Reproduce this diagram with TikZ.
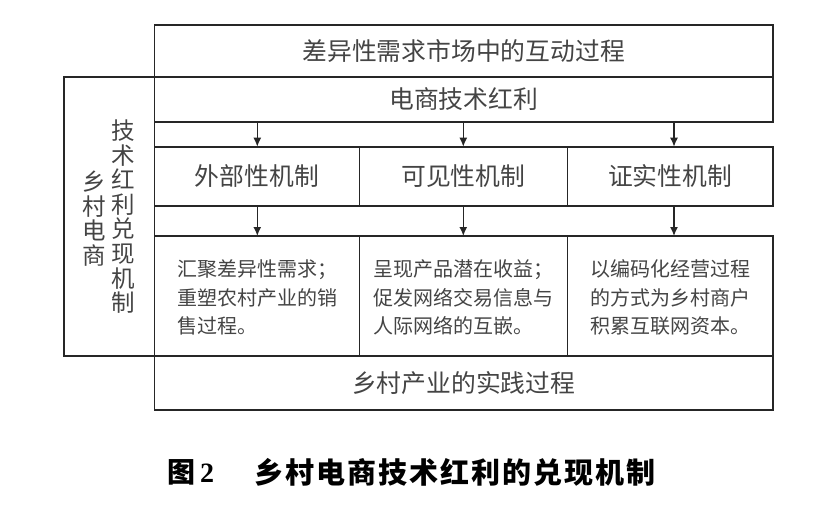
\documentclass[tikz,border=0pt]{standalone}
\usepackage{fontspec}
\setmainfont{Liberation Serif}
\newfontfamily\cjk{Noto Sans CJK SC}
\usetikzlibrary{arrows.meta}
\definecolor{linec}{HTML}{262626}
\definecolor{textc}{HTML}{444444}
\tikzset{
  box/.style={draw=linec, line width=1.6pt, rectangle, inner sep=0pt, outer sep=0pt, text=textc},
  biglabel/.style={font=\cjk\fontsize{24.8}{28}\selectfont},
  desc/.style={align=left, text=textc, font=\cjk\fontsize{20}{28.3}\selectfont},
  vtext/.style={align=center, text=textc, font=\cjk\fontsize{23.5}{24.6}\selectfont},
  arr/.style={draw=linec, line width=1.4pt, -{Latex[length=9pt,width=8pt]}}
}
\begin{document}
\begin{tikzpicture}[x=1pt,y=-1pt]
\useasboundingbox (0,0) rectangle (830,507);
% left frame
\node[box, minimum width=90.5pt, minimum height=279pt] (frame) at (109.25,216.5) {};
% top boxes
\node[box, biglabel, minimum width=618.2pt, minimum height=52pt] (top) at (463.6,51) {差异性需求市场中的互动过程};
\node[box, biglabel, minimum width=618.2pt, minimum height=44.7pt] (tech) at (463.6,99.35) {电商技术红利};
% mechanism boxes
\node[box, biglabel, minimum width=204.8pt, minimum height=59.3pt] (m1) at (256.9,176.35) {外部性机制};
\node[box, biglabel, minimum width=208pt, minimum height=59.3pt] (m2) at (463.3,176.35) {可见性机制};
\node[box, biglabel, minimum width=205.4pt, minimum height=59.3pt] (m3) at (670,176.35) {证实性机制};
% description boxes
\node[box, minimum width=204.8pt, minimum height=120pt] (d1) at (256.9,296) {};
\node[box, minimum width=208pt, minimum height=120pt] (d2) at (463.3,296) {};
\node[box, minimum width=205.4pt, minimum height=120pt] (d3) at (670,296) {};
\node[desc] (t1) at ([xshift=1pt,yshift=-1.5pt]d1.center) {汇聚差异性需求；\\重塑农村产业的销\\售过程。};
\node[desc] (t2) at ([xshift=0pt,yshift=-1.5pt]d2.center) {呈现产品潜在收益；\\促发网络交易信息与\\人际网络的互嵌。};
\node[desc] (t3) at ([xshift=0pt,yshift=-1.5pt]d3.center) {以编码化经营过程\\的方式为乡村商户\\积累互联网资本。};
% bottom box
\node[box, biglabel, minimum width=618.2pt, minimum height=54pt] (bottom) at (463.6,383) {乡村产业的实践过程};
% vertical texts
\node[vtext] (v1) at (123.5,216.6) {技\\术\\红\\利\\兑\\现\\机\\制};
\node[vtext] (v2) at (94,218.5) {乡\\村\\电\\商};
% arrows
\coordinate (c1) at (257.3,0);
\coordinate (c2) at (463.3,0);
\coordinate (c3) at (674,0);
\draw[arr] (tech.south -| c1) -- (m1.north -| c1);
\draw[arr] (tech.south -| c2) -- (m2.north -| c2);
\draw[arr] (tech.south -| c3) -- (m3.north -| c3);
\draw[arr] (m1.south -| c1) -- (d1.north -| c1);
\draw[arr] (m2.south -| c2) -- (d2.north -| c2);
\draw[arr] (m3.south -| c3) -- (d3.north -| c3);
% caption
\node[anchor=west, inner sep=0pt, font=\cjk\bfseries\fontsize{28}{30}\selectfont] (figno) at (167,472) {图\hspace{5pt}{\rmfamily\bfseries 2}};
\node[anchor=west, inner sep=0pt, font=\cjk\bfseries\fontsize{29}{30}\selectfont\addfontfeatures{LetterSpace=7}] (title) at (254,472) {乡村电商技术红利的兑现机制};
\end{tikzpicture}
\end{document}
